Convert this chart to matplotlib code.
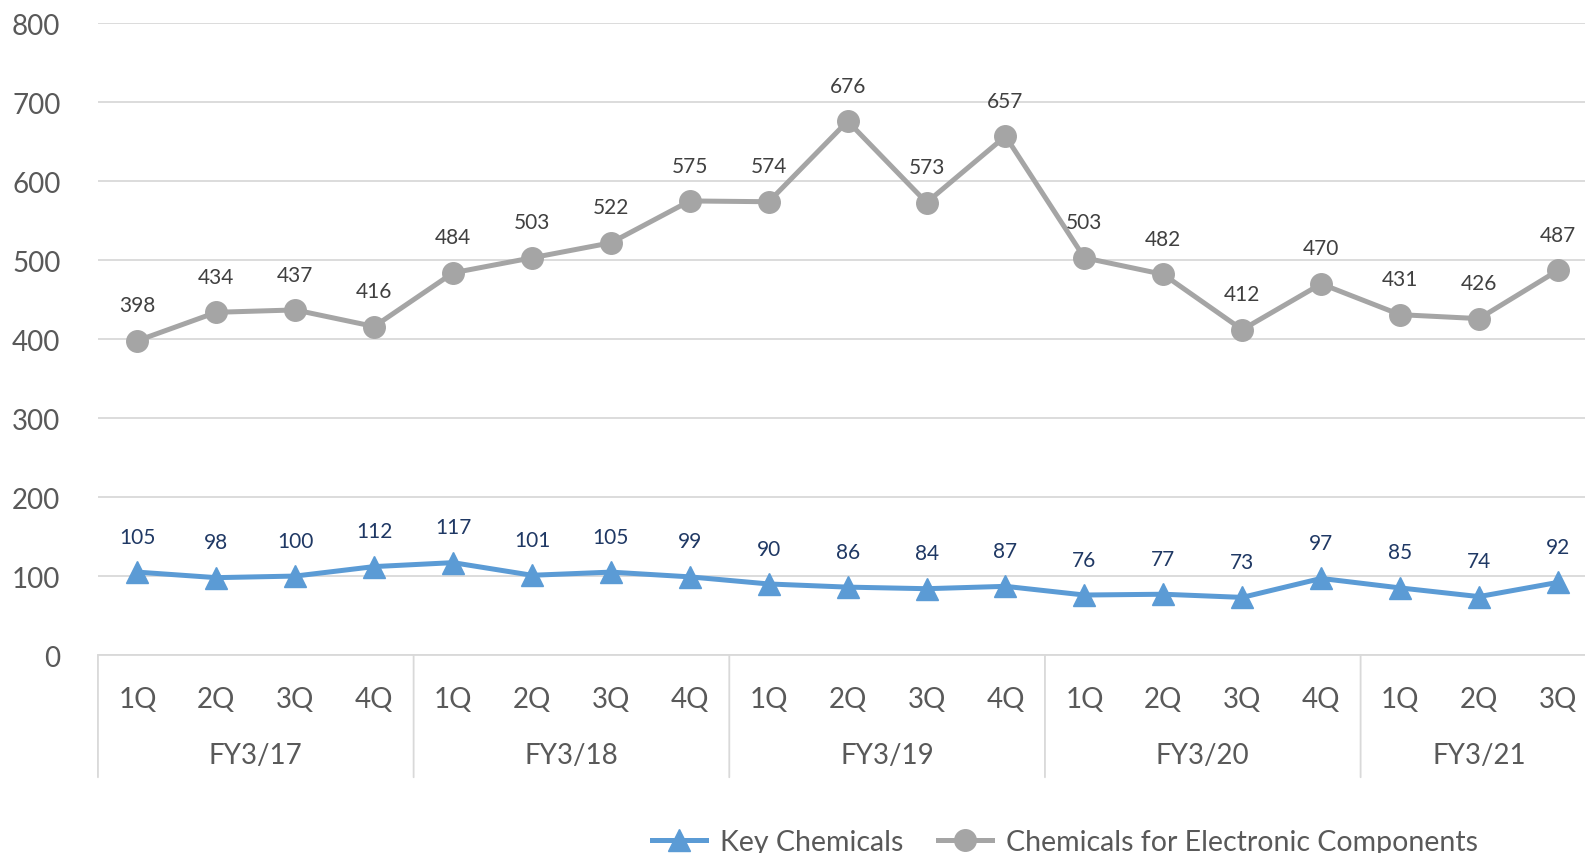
import matplotlib
matplotlib.use("Agg")
import matplotlib.pyplot as plt

quarters = ["1Q", "2Q", "3Q", "4Q"] * 4 + ["1Q", "2Q", "3Q"]
fiscal_years = ["FY3/17", "FY3/18", "FY3/19", "FY3/20", "FY3/21"]
fy_sizes = [4, 4, 4, 4, 3]
key_chemicals = [105, 98, 100, 112, 117, 101, 105, 99, 90, 86, 84, 87, 76, 77, 73, 97, 85, 74, 92]
electronic = [398, 434, 437, 416, 484, 503, 522, 575, 574, 676, 573, 657, 503, 482, 412, 470, 431, 426, 487]

plt.rcParams['font.family'] = ['Lato', 'DejaVu Sans']

BLUE = '#5B9BD5'
GRAY = '#A5A5A5'
GRID = '#D9D9D9'
TXT = '#595959'

fig = plt.figure(figsize=(15.85, 8.54), dpi=100)
ax = fig.add_axes([0.0618, 0.2318, 0.946, 0.7398])

x = list(range(len(quarters)))
ax.plot(x, key_chemicals, color=BLUE, lw=3.6, marker='^', ms=15.5, label='Key Chemicals', zorder=3)
ax.plot(x, electronic, color=GRAY, lw=3.6, marker='o', ms=15.5, label='Chemicals for Electronic Components', zorder=3)

for i, v in enumerate(key_chemicals):
    ax.annotate(str(v), (i, v), xytext=(0, 25.5), textcoords='offset points',
                ha='center', va='center', fontsize=15, color='#1F3864')
for i, v in enumerate(electronic):
    ax.annotate(str(v), (i, v), xytext=(0, 25.5), textcoords='offset points',
                ha='center', va='center', fontsize=15, color='#404040')

ax.set_xlim(-0.5, len(quarters) - 0.5)
ax.set_ylim(0, 800)
ax.set_yticks(range(0, 801, 100))
ax.yaxis.grid(True, color=GRID, lw=1.3)
ax.set_axisbelow(True)
for s in ['top', 'right', 'left']:
    ax.spines[s].set_visible(False)
ax.spines['bottom'].set_color(GRID)
ax.spines['bottom'].set_linewidth(1.3)
ax.tick_params(axis='y', length=0, pad=27, labelsize=20, labelcolor=TXT)
ax.set_xticks([])

# grouped category axis
for i, q in enumerate(quarters):
    ax.annotate(q, (i, 0), xycoords=('data', 'axes fraction'), xytext=(0, -31.5),
                textcoords='offset points', ha='center', va='center', fontsize=20, color=TXT)
start = 0
for fy, n in zip(fiscal_years, fy_sizes):
    ax.annotate(fy, (start + (n - 1) / 2, 0), xycoords=('data', 'axes fraction'), xytext=(0, -72),
                textcoords='offset points', ha='center', va='center', fontsize=20, color=TXT)
    ax.annotate('', (start - 0.5, 0), xycoords=('data', 'axes fraction'), xytext=(start - 0.5, -88),
                textcoords=('data', 'offset points'),
                arrowprops=dict(arrowstyle='-', color=GRID, lw=1.3, shrinkA=0, shrinkB=0))
    start += n

fig.legend(loc='center', bbox_to_anchor=(0.672, 0.013), ncol=2, frameon=False,
           fontsize=20.5, labelcolor=TXT, handlelength=1.9, columnspacing=1.2, handletextpad=0.5)

fig.savefig('out.png', dpi=100)
